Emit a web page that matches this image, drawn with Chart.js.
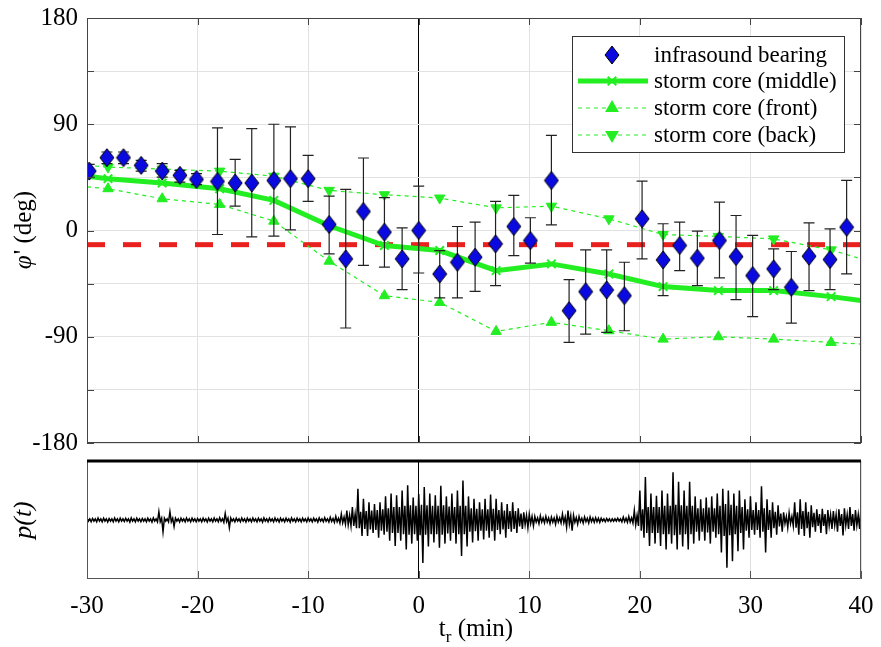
<!DOCTYPE html>
<html>
<head>
<meta charset="utf-8">
<script src="https://cdn.jsdelivr.net/npm/chart.js@4/dist/chart.umd.min.js"></script>
<style>
  body { margin: 0; background: #fff; }
  #wrap { position: relative; width: 881px; height: 647px; }
  #topChart { position: absolute; left: 0; top: 0; }
  #botChart { position: absolute; left: 0; top: 455px; }
</style>
</head>
<body>
<div id="wrap">
  <canvas id="topChart" width="881" height="460"></canvas>
  <canvas id="botChart" width="881" height="192"></canvas>
</div>
<script>
// infrasound bearing (deg) with error bar ends
const bearingT  = [-29.8, -28.2, -26.7, -25.1, -23.2, -21.6, -20.1, -18.2, -16.6, -15.1, -13.1, -11.6, -10.0, -8.1, -6.6, -5.0, -3.1, -1.5, 0.0, 1.9, 3.5, 5.1, 6.95, 8.6, 10.1, 12.0, 13.6, 15.1, 17.0, 18.6, 20.2, 22.1, 23.6, 25.2, 27.2, 28.7, 30.2, 32.1, 33.7, 35.3, 37.2, 38.7];
const bearing   = [50.3, 61.7, 61.7, 55.2, 50.3, 46.7, 43.3, 41.6, 40.2, 40.2, 42.4, 43.9, 43.9, 5.1, -24, 16.1, -1.4, -24, 0, -36.8, -26.9, -22.6, -11.3, 3.4, -8.5, 42.4, -67.9, -51.8, -50.4, -55.2, 9.9, -24.9, -12.7, -23.5, -8.5, -22.1, -38.2, -32.5, -48.1, -21.8, -24.6, 2.8];
const bearingHi = [56, 66.5, 66.5, 59.4, 56.6, 50.9, 48.1, 86.9, 60.3, 86.3, 90, 87.7, 63.7, 29.1, 34.8, 61.4, 27.8, 2.3, 37.6, -17, 3.4, 7.1, 24.6, 29.7, 10.8, 80.6, -41.6, -16.4, -16.4, -26.9, 41.9, 5.7, 7.1, -0.6, 24, 12.7, -4.2, -15.5, -17.8, 6.5, 1.4, 42.4];
const bearingLo = [45, 56.6, 56.6, 50.3, 45.2, 41, 38.9, -3.4, 20.6, -5.4, -4.8, 0.6, 24.6, -19.8, -82.6, -29.5, -31.1, -50, -36, -57, -57, -51.5, -46.7, -21.2, -27.7, 4.8, -94.8, -87.7, -86.3, -84.9, -24, -55.2, -34, -46.7, -40.2, -58.6, -73, -50, -78.4, -51, -50, -36.8];

// storm core bearings (deg); first and last entries are the values at the axis edges
const coreT      = [-30, -28.1, -23.2, -18.0, -13.1, -8.1, -3.1, 1.9, 7.0, 12.0, 17.2, 22.1, 27.1, 32.1, 37.3, 40];
const coreMiddle = [46, 43.9, 40.2, 35.4, 25.5, 4, -12.7, -17, -34, -28.3, -36.8, -47.5, -50.9, -50.9, -56, -59.4];
const coreFront  = [37, 35.4, 26.9, 22.1, 7.9, -26, -55.2, -60.9, -85.5, -77.8, -84.9, -92, -90, -92, -94.8, -96.2];
const coreBack   = [55.2, 53.7, 52, 50.3, 46, 34, 30.3, 27.5, 19.2, 20.6, 9.9, -3.4, -5, -7.1, -16.4, -24];

const refBearing = -12;

// pressure trace read every 0.5 min from -30 to 40 (fraction of half panel):
// peak excursions up / down and the width of the dense core
const waveStart = -30;
const waveStep = 0.5;
const waveUp = [
  .03, .025, .035, .03, .025, .035, .03, .03, .035, .03, .025, .03, .035, .14, .03, .14, .03, .03, .035, .03,
  .025, .03, .03, .035, .04, .11, .035, .03, .035, .03, .035, .03, .035, .03, .035, .03, .03, .035, .03, .03,
  .035, .03, .035, .04, .045, .06, .1, .16, .22, .53, .36, .3, .27, .3, .4, .45, .42, .5, .59, .38,
  .44, .56, .45, .42, .58, .4, .45, .5, .67, .4, .36, .3, .36, .43, .36, .3, .27, .3, .2, .13,
  .1, .06, .07, .06, .05, .06, .1, .16, .08, .06, .05, .05, .04, .03, .025, .02, .03, .05, .06, .16,
  .5, .73, .45, .41, .5, .45, .81, .65, .5, .65, .4, .35, .38, .4, .45, .53, .5, .45, .5, .35,
  .4, .3, .57, .35, .3, .25, .13, .12, .3, .35, .3, .25, .18, .19, .17, .15, .18, .2, .22, .17,
  .22
];
const waveDown = [
  .03, .03, .03, .035, .03, .03, .025, .035, .03, .03, .03, .035, .03, .2, .03, .11, .035, .03, .03, .03,
  .03, .035, .03, .03, .04, .13, .03, .03, .035, .03, .03, .035, .03, .03, .035, .03, .035, .03, .03, .03,
  .03, .035, .03, .035, .04, .05, .07, .1, .14, .27, .27, .22, .3, .25, .35, .44, .35, .5, .4, .35,
  .73, .45, .38, .47, .4, .35, .4, .61, .45, .38, .35, .33, .3, .35, .24, .3, .2, .22, .15, .13,
  .1, .06, .05, .06, .07, .05, .12, .18, .07, .05, .05, .04, .04, .03, .025, .02, .03, .04, .05, .1,
  .3, .44, .4, .44, .5, .4, .5, .45, .5, .4, .35, .35, .4, .3, .55, .81, .7, .53, .5, .3,
  .25, .3, .55, .3, .25, .2, .13, .1, .25, .27, .3, .2, .22, .24, .15, .2, .26, .15, .18, .15,
  .15
];
const waveCore = [
  .02, .02, .02, .02, .02, .02, .02, .02, .02, .02, .02, .02, .02, .03, .02, .03, .02, .02, .02, .02,
  .02, .02, .02, .02, .02, .03, .02, .02, .02, .02, .02, .02, .02, .02, .02, .02, .02, .02, .02, .02,
  .02, .02, .02, .02, .025, .03, .05, .08, .1, .14, .15, .16, .17, .18, .2, .22, .22, .24, .25, .24,
  .26, .25, .24, .24, .25, .23, .22, .24, .24, .2, .19, .18, .18, .19, .17, .16, .15, .15, .11, .08,
  .06, .035, .035, .035, .035, .035, .05, .07, .04, .03, .03, .03, .03, .02, .02, .02, .02, .03, .035, .08,
  .18, .22, .22, .22, .24, .24, .26, .25, .24, .24, .2, .2, .21, .2, .24, .27, .26, .24, .22, .18,
  .17, .17, .2, .17, .14, .11, .06, .06, .13, .15, .14, .12, .1, .1, .09, .09, .1, .09, .1, .09,
  .1
];

const xTicks = [-30, -20, -10, 0, 10, 20, 30, 40];
const yGrid  = [-180, -135, -90, -45, 0, 45, 90, 135, 180];
const yTicks = [-180, -90, 0, 90, 180];

const legendLabels = ['infrasound bearing', 'storm core (middle)', 'storm core (front)', 'storm core (back)'];

const SERIF = "'Liberation Serif', 'Times New Roman', serif";
const GREEN = '#22ee22';
const BLUE = '#0a0ae0';
Chart.defaults.font.family = SERIF;
Chart.defaults.color = '#000';

function diamondImage(w, h) {
  const c = document.createElement('canvas');
  c.width = w + 2; c.height = h + 2;
  const g = c.getContext('2d');
  g.beginPath();
  g.moveTo(c.width / 2, 1);
  g.lineTo(c.width - 1, c.height / 2);
  g.lineTo(c.width / 2, c.height - 1);
  g.lineTo(1, c.height / 2);
  g.closePath();
  g.fillStyle = BLUE; g.fill();
  g.strokeStyle = '#000'; g.lineWidth = 1; g.stroke();
  return c;
}
const diamond = diamondImage(14, 18);

const toXY = (xs, ys) => xs.map((x, i) => ({ x: x, y: ys[i] }));
const edgeless = r => ctx => (ctx.dataIndex === 0 || ctx.dataIndex === coreT.length - 1) ? 0 : r;

// keep the plot box exactly where the layout padding puts it
function fixWidth(w) {
  return s => { s.width = w; s.paddingTop = 0; s.paddingBottom = 0; s.paddingLeft = 0; s.paddingRight = 0; };
}
function fixHeight(h) {
  return s => { s.height = h; s.paddingTop = 0; s.paddingBottom = 0; s.paddingLeft = 0; s.paddingRight = 0; };
}

const topPlugin = {
  id: 'topDeco',
  beforeDatasetDraw(chart, args) {
    if (args.index !== 0) return;
    const { ctx, chartArea: a } = chart;
    const x = chart.scales.x, y = chart.scales.y;
    ctx.save();
    ctx.beginPath(); ctx.rect(a.left, a.top, a.width, a.height); ctx.clip();
    ctx.strokeStyle = '#222'; ctx.lineWidth = 1.2;
    bearingT.forEach((t, i) => {
      const px = x.getPixelForValue(t);
      const hi = y.getPixelForValue(bearingHi[i]);
      const lo = y.getPixelForValue(bearingLo[i]);
      ctx.beginPath();
      ctx.moveTo(px, hi); ctx.lineTo(px, lo);
      ctx.moveTo(px - 5.5, hi); ctx.lineTo(px + 5.5, hi);
      ctx.moveTo(px - 5.5, lo); ctx.lineTo(px + 5.5, lo);
      ctx.stroke();
    });
    ctx.restore();
  },
  afterDraw(chart) {
    const { ctx, chartArea: a } = chart;
    const x = chart.scales.x, y = chart.scales.y;
    ctx.save();
    // frame and inward ticks
    ctx.strokeStyle = '#444'; ctx.lineWidth = 1;
    ctx.strokeRect(a.left + 0.5, a.top + 0.5, a.width - 1, a.height - 1);
    ctx.beginPath();
    xTicks.forEach(v => {
      const px = Math.round(x.getPixelForValue(v)) + 0.5;
      ctx.moveTo(px, a.top); ctx.lineTo(px, a.top + 7);
      ctx.moveTo(px, a.bottom); ctx.lineTo(px, a.bottom - 7);
    });
    yGrid.forEach(v => {
      const py = Math.round(y.getPixelForValue(v)) + 0.5;
      ctx.moveTo(a.left, py); ctx.lineTo(a.left + 7, py);
      ctx.moveTo(a.right, py); ctx.lineTo(a.right - 7, py);
    });
    ctx.stroke();

    // y axis title: φ' (deg)
    ctx.translate(24, (a.top + a.bottom) / 2);
    ctx.rotate(-Math.PI / 2);
    ctx.textBaseline = 'middle';
    ctx.font = 'italic 25px ' + SERIF;
    const w1 = ctx.measureText('\u03C6').width;
    ctx.font = '25px ' + SERIF;
    const rest = "' (deg)";
    const w2 = ctx.measureText(rest).width;
    ctx.fillStyle = '#000';
    ctx.textAlign = 'left';
    ctx.font = 'italic 25px ' + SERIF;
    ctx.fillText('\u03C6', -(w1 + w2) / 2, 0);
    ctx.font = '25px ' + SERIF;
    ctx.fillText(rest, -(w1 + w2) / 2 + w1 + 1, 0);
    ctx.restore();

    // legend
    ctx.save();
    const bx = 572, by = 36, bw = 272, bh = 116;
    ctx.fillStyle = '#fff';
    ctx.fillRect(bx, by, bw, bh);
    ctx.strokeStyle = '#333'; ctx.lineWidth = 1;
    ctx.strokeRect(bx + 0.5, by + 0.5, bw, bh);
    const rowY = [55, 81, 108, 135];
    const mx = 612, l0 = 578, l1 = 648;
    ctx.font = '23px ' + SERIF;
    ctx.textBaseline = 'middle';
    ctx.textAlign = 'left';
    legendLabels.forEach((lab, i) => {
      const ry = rowY[i];
      if (i === 0) {
        ctx.drawImage(diamond, mx - diamond.width / 2, ry - diamond.height / 2);
      } else {
        ctx.strokeStyle = GREEN; ctx.fillStyle = GREEN;
        ctx.lineWidth = i === 1 ? 5 : 1.2;
        ctx.setLineDash(i === 1 ? [] : [4, 4]);
        ctx.beginPath(); ctx.moveTo(l0, ry); ctx.lineTo(l1, ry); ctx.stroke();
        ctx.setLineDash([]);
        ctx.lineWidth = 2;
        const opts = i === 1
          ? { pointStyle: 'crossRot', radius: 6, rotation: 0, borderWidth: 2 }
          : { pointStyle: 'triangle', radius: 6, rotation: i === 3 ? 180 : 0, borderWidth: 1 };
        Chart.helpers.drawPoint(ctx, opts, mx, ry);
      }
      ctx.fillStyle = '#000';
      ctx.fillText(lab, 654, ry + 1);
    });
    ctx.restore();
  }
};

new Chart(document.getElementById('topChart'), {
  type: 'scatter',
  data: {
    datasets: [
      {
        label: 'infrasound bearing',
        data: toXY(bearingT, bearing),
        pointStyle: diamond,
        pointRadius: 9,
        showLine: false
      },
      {
        label: 'storm core (middle)',
        data: toXY(coreT, coreMiddle),
        showLine: true,
        borderColor: GREEN,
        backgroundColor: GREEN,
        borderWidth: 5,
        pointStyle: 'crossRot',
        pointRadius: edgeless(6),
        pointBorderWidth: 2
      },
      {
        label: 'storm core (front)',
        data: toXY(coreT, coreFront),
        showLine: true,
        borderColor: GREEN,
        backgroundColor: GREEN,
        borderWidth: 1.2,
        borderDash: [4, 4],
        pointStyle: 'triangle',
        pointRadius: edgeless(6),
        pointBorderWidth: 1
      },
      {
        label: 'storm core (back)',
        data: toXY(coreT, coreBack),
        showLine: true,
        borderColor: GREEN,
        backgroundColor: GREEN,
        borderWidth: 1.2,
        borderDash: [4, 4],
        pointStyle: 'triangle',
        rotation: 180,
        pointRadius: edgeless(6),
        pointBorderWidth: 1
      },
      {
        label: 'reference',
        data: [{ x: xTicks[0], y: refBearing }, { x: xTicks[xTicks.length - 1], y: refBearing }],
        showLine: true,
        borderColor: '#e8201e',
        borderWidth: 5,
        borderDash: [18, 18],
        pointRadius: 0
      }
    ]
  },
  options: {
    responsive: false,
    animation: false,
    events: [],
    devicePixelRatio: 1,
    layout: { padding: { left: 0, right: 20, top: 18, bottom: 17 } },
    plugins: { legend: { display: false }, tooltip: { enabled: false } },
    scales: {
      x: {
        type: 'linear', min: -30, max: 40,
        afterBuildTicks: s => { s.ticks = xTicks.map(v => ({ value: v })); },
        afterFit: fixHeight(0),
        ticks: { display: false },
        border: { display: false },
        grid: {
          drawTicks: false,
          color: c => c.tick && c.tick.value === 0 ? '#000' : '#e2e2e2',
          lineWidth: 1
        }
      },
      y: {
        type: 'linear', min: -180, max: 180,
        afterBuildTicks: s => { s.ticks = yGrid.map(v => ({ value: v })); },
        afterFit: fixWidth(87),
        ticks: {
          padding: 9,
          font: { size: 25, family: SERIF },
          callback: v => yTicks.includes(v) ? String(v) : ''
        },
        border: { display: false },
        grid: { drawTicks: false, color: '#e2e2e2', lineWidth: 1 }
      }
    }
  },
  plugins: [topPlugin]
});

// each 0.5 min reading becomes four trace points: peak up, core down, core up, peak down
const wavePoints = [];
waveUp.forEach((u, i) => {
  const t = waveStart + i * waveStep;
  const q = waveStep / 4;
  wavePoints.push({ x: t, y: u });
  if (i === waveUp.length - 1) return;
  wavePoints.push({ x: t + q, y: -waveCore[i] });
  wavePoints.push({ x: t + 2 * q, y: waveCore[i] });
  wavePoints.push({ x: t + 3 * q, y: -waveDown[i] });
});

const botPlugin = {
  id: 'botDeco',
  afterDraw(chart) {
    const { ctx, chartArea: a } = chart;
    const x = chart.scales.x;
    ctx.save();
    ctx.strokeStyle = '#555'; ctx.lineWidth = 1;
    ctx.beginPath();
    ctx.moveTo(a.left + 0.5, a.top); ctx.lineTo(a.left + 0.5, a.bottom - 0.5);
    ctx.lineTo(a.right - 0.5, a.bottom - 0.5); ctx.lineTo(a.right - 0.5, a.top);
    xTicks.forEach(v => {
      const px = Math.round(x.getPixelForValue(v)) + 0.5;
      ctx.moveTo(px, a.bottom); ctx.lineTo(px, a.bottom - 8);
    });
    ctx.stroke();
    ctx.strokeStyle = '#000'; ctx.lineWidth = 3;
    ctx.beginPath(); ctx.moveTo(a.left, a.top); ctx.lineTo(a.right, a.top); ctx.stroke();

    // x axis title t_r (min)
    ctx.fillStyle = '#000';
    ctx.textBaseline = 'alphabetic';
    ctx.textAlign = 'left';
    ctx.font = '25px ' + SERIF;
    const tW = ctx.measureText('t').width;
    const minW = ctx.measureText(' (min)').width;
    ctx.font = '17px ' + SERIF;
    const rW = ctx.measureText('r').width;
    const x0 = 476 - (tW + rW + minW) / 2;
    const base = 181;
    ctx.font = '25px ' + SERIF;
    ctx.fillText('t', x0, base);
    ctx.font = '17px ' + SERIF;
    ctx.fillText('r', x0 + tW, base + 6);
    ctx.font = '25px ' + SERIF;
    ctx.fillText(' (min)', x0 + tW + rW, base);

    // y axis title p(t)
    ctx.translate(24, (a.top + a.bottom) / 2);
    ctx.rotate(-Math.PI / 2);
    ctx.textAlign = 'center';
    ctx.textBaseline = 'middle';
    ctx.font = 'italic 26px ' + SERIF;
    ctx.fillText('p(t)', 0, 0);
    ctx.restore();
  }
};

new Chart(document.getElementById('botChart'), {
  type: 'scatter',
  data: {
    datasets: [{
      label: 'p(t)',
      data: wavePoints,
      showLine: true,
      borderColor: '#000',
      borderWidth: 1.5,
      pointRadius: 0
    }]
  },
  options: {
    responsive: false,
    animation: false,
    events: [],
    devicePixelRatio: 1,
    layout: { padding: { left: 0, right: 20, top: 6, bottom: 0 } },
    plugins: { legend: { display: false }, tooltip: { enabled: false } },
    scales: {
      x: {
        type: 'linear', min: -30, max: 40,
        afterBuildTicks: s => { s.ticks = xTicks.map(v => ({ value: v })); },
        afterFit: fixHeight(68),
        ticks: { padding: 12, font: { size: 25, family: SERIF }, callback: v => String(v) },
        border: { display: false },
        grid: {
          drawTicks: false,
          color: c => c.tick && c.tick.value === 0 ? '#000' : '#dedede',
          lineWidth: 1
        }
      },
      y: {
        type: 'linear', min: -1, max: 1,
        afterFit: fixWidth(87),
        ticks: { display: false },
        border: { display: false },
        grid: { display: false }
      }
    }
  },
  plugins: [botPlugin]
});
</script>
</body>
</html>
